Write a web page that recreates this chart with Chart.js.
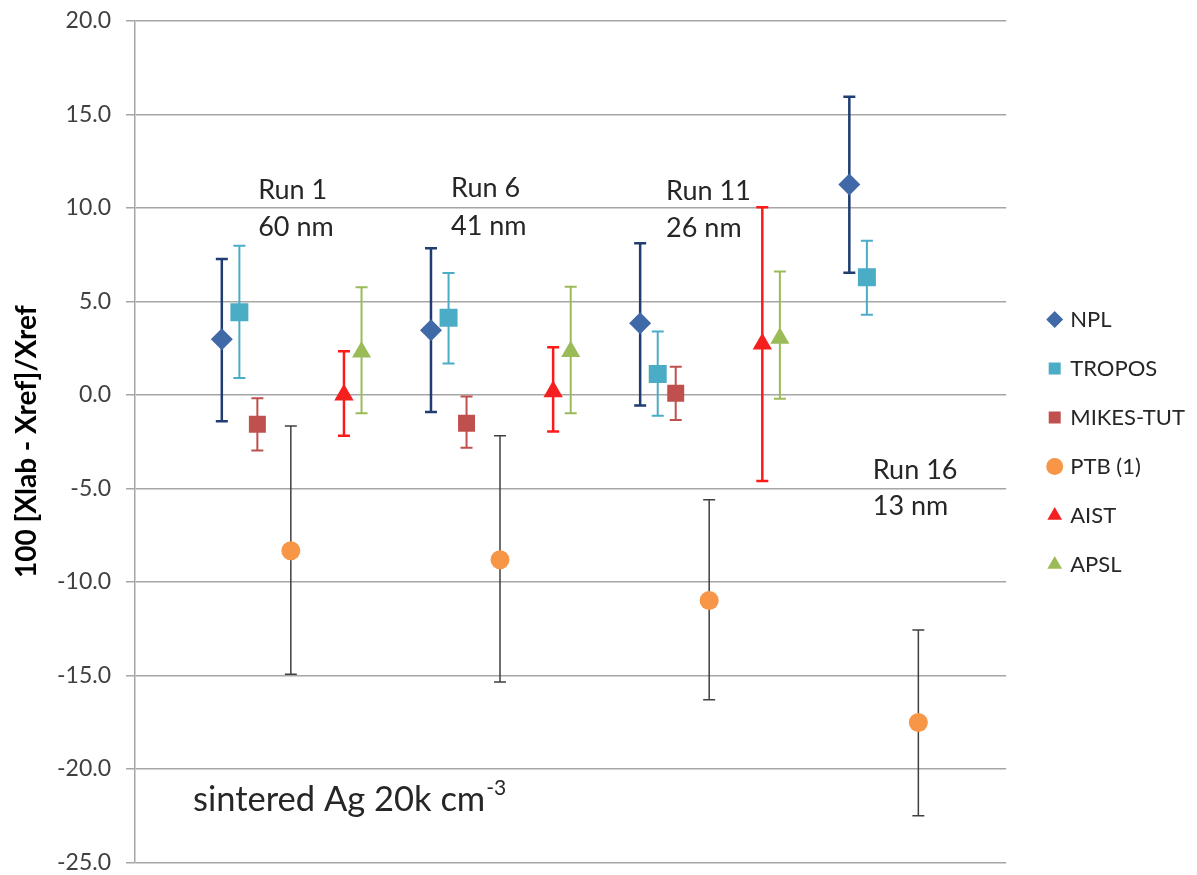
<!DOCTYPE html>
<html lang="en">
<head>
  <meta charset="UTF-8">
  <title>sintered Ag 20k cm-3</title>
  <script src="https://cdn.jsdelivr.net/npm/chart.js"></script>
  <style>
    body { margin: 0; background: #fff; }
  </style>
</head>
<body>
  <canvas id="devChart" width="1197" height="875"></canvas>

  <script>
    // runs: 1, 6, 11, 16 -- each lab offset a little to the right
    const runNames = ['Run 1', 'Run 6', 'Run 11', 'Run 16'];
    const runSizes = ['60 nm', '41 nm', '26 nm', '13 nm'];

    const nplX   = [1, 6, 11, 16];
    const nplY   = [2.98, 3.46, 3.83, 11.25];
    const nplLo  = [-1.41, -0.91, -0.57, 6.54];
    const nplHi  = [7.27, 7.84, 8.11, 15.95];

    const tropX  = [1.42, 6.42, 11.42, 16.42];
    const tropY  = [4.42, 4.13, 1.12, 6.29];
    const tropLo = [0.91, 1.68, -1.12, 4.29];
    const tropHi = [7.98, 6.52, 3.39, 8.25];

    const mikesX  = [1.85, 6.85, 11.85];
    const mikesY  = [-1.57, -1.52, 0.09];
    const mikesLo = [-2.98, -2.83, -1.34];
    const mikesHi = [-0.18, -0.09, 1.51];

    const ptbX  = [2.65, 7.65, 12.65, 17.65];
    const ptbY  = [-8.34, -8.82, -11.0, -17.52];
    const ptbLo = [-14.94, -15.35, -16.31, -22.51];
    const ptbHi = [-1.66, -2.19, -5.61, -12.57];

    const aistX  = [3.92, 8.92, 13.92];
    const aistY  = [0.0, 0.18, 2.73];
    const aistLo = [-2.18, -1.96, -4.6];
    const aistHi = [2.34, 2.55, 10.04];

    const apslX  = [4.34, 9.34, 14.34];
    const apslY  = [2.3, 2.32, 3.03];
    const apslLo = [-0.98, -0.98, -0.21];
    const apslHi = [5.76, 5.78, 6.6];

    const pts = (xs, ys, lo, hi) => xs.map((x, i) => ({ x: x, y: ys[i], lo: lo[i], hi: hi[i] }));

    // text placed in data units
    const notes = [
      { text: runNames[0], x: 1.87,  y: 10.96 }, { text: runSizes[0], x: 1.87,  y: 8.98 },
      { text: runNames[1], x: 6.48,  y: 11.07 }, { text: runSizes[1], x: 6.48,  y: 9.04 },
      { text: runNames[2], x: 11.62, y: 10.87 }, { text: runSizes[2], x: 11.62, y: 8.93 },
      { text: runNames[3], x: 16.56, y: -4.01 }, { text: runSizes[3], x: 16.56, y: -5.94 }
    ];

    const errorBars = {
      id: 'errorBars',
      beforeDatasetsDraw(chart) {
        const ctx = chart.ctx, xs = chart.scales.x, ys = chart.scales.y;
        chart.data.datasets.forEach(ds => {
          ctx.save();
          ctx.strokeStyle = ds.errColor;
          ctx.lineWidth = ds.errWidth;
          ds.data.forEach(p => {
            const px = xs.getPixelForValue(p.x);
            const top = ys.getPixelForValue(p.hi);
            const bot = ys.getPixelForValue(p.lo);
            ctx.beginPath();
            ctx.moveTo(px, top); ctx.lineTo(px, bot);
            ctx.moveTo(px - 6, top); ctx.lineTo(px + 6, top);
            ctx.moveTo(px - 6, bot); ctx.lineTo(px + 6, bot);
            ctx.stroke();
          });
          ctx.restore();
        });
      }
    };

    const textNotes = {
      id: 'textNotes',
      afterDatasetsDraw(chart) {
        const ctx = chart.ctx, xs = chart.scales.x, ys = chart.scales.y;
        ctx.save();
        ctx.fillStyle = '#262626';
        ctx.textBaseline = 'middle';
        ctx.font = '27px Lato';
        notes.forEach(n => ctx.fillText(n.text, xs.getPixelForValue(n.x), ys.getPixelForValue(n.y)));

        // sintered Ag label with superscript
        const lx = xs.getPixelForValue(0.31), ly = ys.getPixelForValue(-21.66);
        ctx.font = '34.5px Lato';
        const main = 'sintered Ag 20k cm';
        ctx.fillText(main, lx, ly);
        const w = ctx.measureText(main).width;
        ctx.font = '21px Lato';
        ctx.fillText('-3', lx + w + 1, ly - 12);
        ctx.restore();
      }
    };

    Chart.defaults.font.family = 'Lato';

    new Chart(document.getElementById('devChart'), {
      type: 'scatter',
      data: {
        datasets: [
          { label: 'NPL', data: pts(nplX, nplY, nplLo, nplHi), pointStyle: 'rectRot', pointRadius: 11,
            backgroundColor: '#4069A8', borderColor: '#4069A8', borderWidth: 0, errColor: '#1F3D73', errWidth: 2.5 },
          { label: 'TROPOS', data: pts(tropX, tropY, tropLo, tropHi), pointStyle: 'rect', pointRadius: 12.7,
            backgroundColor: '#4BACC6', borderColor: '#4BACC6', borderWidth: 0, errColor: '#4BACC6', errWidth: 2 },
          { label: 'MIKES-TUT', data: pts(mikesX, mikesY, mikesLo, mikesHi), pointStyle: 'rect', pointRadius: 12,
            backgroundColor: '#C0504D', borderColor: '#C0504D', borderWidth: 0, errColor: '#C0504D', errWidth: 2 },
          { label: 'PTB (1)', data: pts(ptbX, ptbY, ptbLo, ptbHi), pointStyle: 'circle', pointRadius: 9.5,
            backgroundColor: '#F79646', borderColor: '#F79646', borderWidth: 0, errColor: '#404040', errWidth: 1.5 },
          { label: 'AIST', data: pts(aistX, aistY, aistLo, aistHi), pointStyle: 'triangle', pointRadius: 11.2,
            backgroundColor: '#F42020', borderColor: '#F42020', borderWidth: 0, errColor: '#FF1A1A', errWidth: 2.5 },
          { label: 'APSL', data: pts(apslX, apslY, apslLo, apslHi), pointStyle: 'triangle', pointRadius: 11,
            backgroundColor: '#9BBB59', borderColor: '#9BBB59', borderWidth: 0, errColor: '#9BBB59', errWidth: 2 }
        ]
      },
      options: {
        responsive: false,
        animation: false,
        layout: { padding: { top: 21, bottom: 12, left: 0, right: 2 } },
        scales: {
          x: { type: 'linear', min: -1.075, max: 19.75, display: false },
          y: {
            min: -25, max: 20,
            afterFit: s => { s.width = 135; s.paddingTop = 12; s.paddingBottom = 12; },
            ticks: { stepSize: 5, padding: 15, color: '#404040', font: { size: 23 },
                     callback: v => v.toFixed(1) },
            grid: { color: '#A6A6A6', lineWidth: 1.5, tickLength: 9 },
            border: { color: '#A6A6A6', width: 1.5 },
            title: { display: true, text: '100 [Xlab - Xref]/Xref', color: '#000',
                     font: { size: 28, weight: 'bold' }, padding: { top: 10, bottom: 0 } }
          },
          gap: {
            type: 'linear', axis: 'y', position: 'right',
            afterFit: s => { s.width = 17; },
            grid: { display: false }, border: { display: false }, ticks: { display: false }
          }
        },
        plugins: {
          legend: {
            position: 'right', align: 'center', maxWidth: 175,
            labels: { usePointStyle: true, boxWidth: 9, boxHeight: 12, padding: 27,
                      color: '#262626', font: { size: 22 } }
          },
          tooltip: { enabled: false }
        }
      },
      plugins: [errorBars, textNotes]
    });
  </script>
</body>
</html>
